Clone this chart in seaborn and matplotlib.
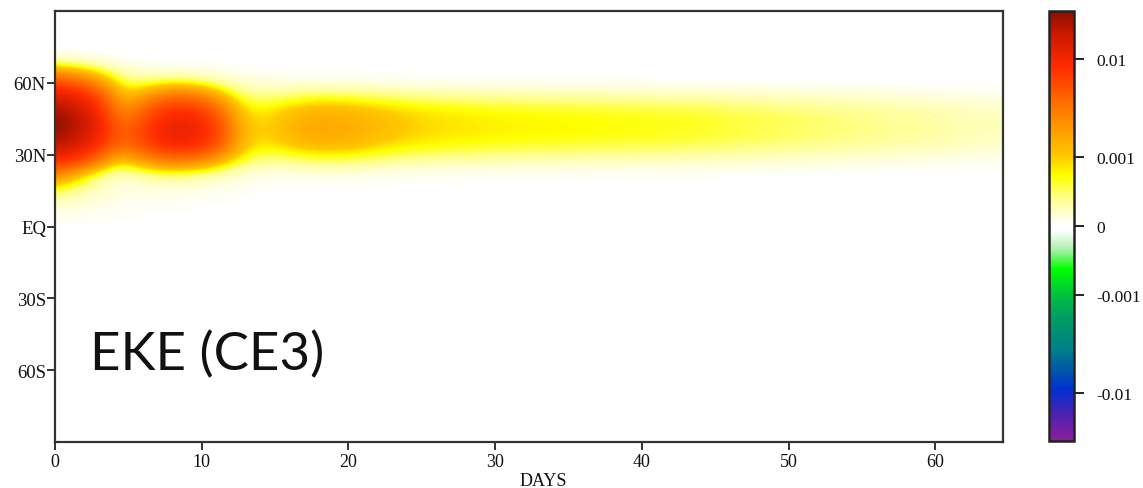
import numpy as np
import pandas as pd
import matplotlib
matplotlib.use("Agg")
import matplotlib.pyplot as plt
import seaborn as sns
from matplotlib.colors import LinearSegmentedColormap, SymLogNorm
from matplotlib.cm import ScalarMappable

# ---------------- data (EKE, units of 1e-3) ----------------
days = list(range(0, 65, 2))          # 0, 2, ..., 64
lats = list(range(-90, 91, 6))        # -90 ... 90 every 6 degrees

eke_78N = [0.0] * 33
eke_72N = [0.05, 0.05, 0.02, 0.01, 0.01, 0.01, 0.01, 0.01, 0.01, 0.01, 0.01, 0.01, 0.01, 0.01, 0, 0,
           0, 0, 0, 0, 0, 0, 0, 0, 0, 0, 0, 0, 0, 0, 0, 0, 0]
eke_66N = [0.7, 0.5, 0.2, 0.1, 0.1, 0.08, 0.05, 0.03, 0.03, 0.03, 0.03, 0.03, 0.02, 0.02, 0.02, 0.02,
           0.02, 0.02, 0.02, 0.02, 0.01, 0.01, 0.01, 0.01, 0.01, 0.01, 0.01, 0.01, 0.01, 0.01, 0.01, 0.01, 0.01]
eke_60N = [5, 3, 0.6, 0.4, 0.5, 0.4, 0.2, 0.15, 0.12, 0.1, 0.1, 0.08, 0.07, 0.06, 0.06, 0.06,
           0.05, 0.05, 0.05, 0.05, 0.05, 0.04, 0.04, 0.04, 0.04, 0.03, 0.03, 0.03, 0.03, 0.02, 0.02, 0.02, 0.02]
eke_54N = [14, 9, 1.0, 1.5, 3.5, 2.5, 0.6, 0.4, 0.5, 0.6, 0.55, 0.5, 0.45, 0.4, 0.38, 0.36,
           0.35, 0.34, 0.33, 0.32, 0.31, 0.3, 0.29, 0.27, 0.25, 0.23, 0.21, 0.2, 0.18, 0.16, 0.14, 0.13, 0.11]
eke_48N = [27, 15, 1.5, 3.5, 9, 7, 1.1, 0.75, 1.1, 1.4, 1.3, 1.1, 0.92, 0.83, 0.78, 0.74,
           0.72, 0.7, 0.68, 0.66, 0.64, 0.62, 0.6, 0.55, 0.52, 0.48, 0.44, 0.4, 0.37, 0.33, 0.3, 0.26, 0.23]
eke_42N = [32, 17, 3, 5, 12.5, 10, 1.5, 0.8, 1.3, 1.7, 1.5, 1.2, 1.0, 0.9, 0.85, 0.8,
           0.78, 0.76, 0.74, 0.72, 0.7, 0.68, 0.65, 0.6, 0.56, 0.52, 0.48, 0.44, 0.4, 0.36, 0.32, 0.28, 0.25]
eke_36N = [24, 14, 3.5, 5.5, 12, 10, 1.5, 0.8, 1.2, 1.5, 1.4, 1.1, 0.92, 0.83, 0.78, 0.74,
           0.72, 0.7, 0.68, 0.66, 0.64, 0.62, 0.6, 0.55, 0.52, 0.48, 0.44, 0.4, 0.37, 0.33, 0.3, 0.26, 0.23]
eke_30N = [12, 7, 0.9, 2.5, 4.5, 3.5, 1.0, 0.5, 0.6, 0.75, 0.7, 0.6, 0.5, 0.46, 0.43, 0.4,
           0.39, 0.38, 0.37, 0.36, 0.35, 0.34, 0.32, 0.3, 0.28, 0.26, 0.24, 0.22, 0.2, 0.18, 0.16, 0.14, 0.12]
eke_24N = [3.5, 1.0, 0.2, 0.5, 0.7, 0.5, 0.3, 0.15, 0.15, 0.2, 0.18, 0.15, 0.12, 0.11, 0.1, 0.1,
           0.1, 0.09, 0.09, 0.09, 0.08, 0.08, 0.08, 0.07, 0.07, 0.06, 0.06, 0.05, 0.05, 0.04, 0.04, 0.03, 0.03]
eke_18N = [0.9, 0.4, 0.15, 0.15, 0.2, 0.15, 0.1, 0.05, 0.04, 0.04, 0.04, 0.03, 0.03, 0.03, 0.03, 0.02,
           0.02, 0.02, 0.02, 0.02, 0.02, 0.02, 0.02, 0.01, 0.01, 0.01, 0.01, 0.01, 0.01, 0.01, 0.01, 0.01, 0.01]
eke_12N = [0.3, 0.2, 0.1, 0.08, 0.08, 0.06, 0.05, 0.03, 0.02, 0.02, 0.02, 0.02, 0.02, 0.01, 0.01, 0.01,
           0.01, 0.01, 0.01, 0.01, 0.01, 0.01, 0.01, 0.01, 0.01, 0.01, 0.01, 0.01, 0.01, 0.01, 0.01, 0.01, 0.01]
eke_06N = [0.1, 0.1, 0.06, 0.05, 0.04, 0.03, 0.02, 0.02, 0.01, 0.01, 0.01, 0.01, 0.01, 0.01, 0.01, 0.01,
           0.01, 0.01, 0.01, 0.01, 0.01, 0.01, 0.01, 0.01, 0.01, 0.01, 0.01, 0.01, 0.01, 0.01, 0.01, 0.01, 0.01]
eke_EQ = [0.03, 0.03, 0.02, 0.01, 0.01, 0.01, 0.01, 0, 0, 0, 0, 0, 0, 0, 0, 0,
          0, 0, 0, 0, 0, 0, 0, 0, 0, 0, 0, 0, 0, 0, 0, 0, 0]
eke_calm = [0.0] * 33   # polar north (84N, 90N) and whole southern hemisphere: blank

xticks = [0, 10, 20, 30, 40, 50, 60]
ytick_vals = [60, 30, 0, -30, -60]
ytick_labels = ["60N", "30N", "EQ", "30S", "60S"]
cbar_ticks = [-0.01, -0.001, 0, 0.001, 0.01]
cbar_labels = ["-0.01", "-0.001", "0", "0.001", "0.01"]

north = {0: eke_EQ, 6: eke_06N, 12: eke_12N, 18: eke_18N, 24: eke_24N, 30: eke_30N,
         36: eke_36N, 42: eke_42N, 48: eke_48N, 54: eke_54N, 60: eke_60N, 66: eke_66N,
         72: eke_72N, 78: eke_78N}
rows = [north.get(lat, eke_calm) for lat in lats]
df = pd.DataFrame(rows, index=lats, columns=days) * 1e-3

# ---------------- style ----------------
sns.set_theme(style="ticks")
plt.rcParams["font.family"] = ["Liberation Serif", "DejaVu Serif"]

cmap_pos = [0.0, 0.059, 0.121, 0.175, 0.214, 0.291, 0.338, 0.40, 0.447, 0.49, 0.505,
            0.563, 0.617, 0.663, 0.718, 0.772, 0.872, 0.95, 1.0]
cmap_col = ["#8a1f98", "#5020b0", "#0030d0", "#0060a0", "#007f8a", "#00a060", "#00c040",
            "#00ff00", "#b0f0b0", "#ffffff", "#ffffff", "#ffff90", "#ffff00", "#ffc800", "#ffa000",
            "#ff7800", "#ff2b00", "#c81800", "#8b1000"]
cmap = LinearSegmentedColormap.from_list("eke", list(zip(cmap_pos, cmap_col)), N=1024)
norm = SymLogNorm(linthresh=1e-3, linscale=0.64, vmin=-0.031, vmax=0.031, base=10)

fig = plt.figure(figsize=(11.43, 4.89), dpi=100)
ax = fig.add_axes([55 / 1143, 1 - 443 / 489, (1003 - 55) / 1143, (443 - 12) / 489])
cax = fig.add_axes([1049 / 1143, 1 - 442 / 489, 25 / 1143, (442 - 12) / 489])

ax.imshow(df.values, origin="lower", aspect="auto", cmap=cmap, norm=norm,
          extent=[days[0] - 1, days[-1] + 1, lats[0] - 3, lats[-1] + 3],
          interpolation="bicubic", interpolation_stage="data")

ax.set_xlim(0, 64.6)
ax.set_ylim(-90, 90)
ax.set_xticks(xticks)
ax.set_xticklabels([str(t) for t in xticks])
ax.set_yticks(ytick_vals)
ax.set_yticklabels(ytick_labels)
ax.tick_params(axis="both", direction="out", length=6, width=1.4, color="#333333",
               labelsize=13, pad=2, labelcolor="#111111")
ax.tick_params(axis="y", labelsize=13.5, pad=0.5)
for s in ax.spines.values():
    s.set_visible(True)
    s.set_color("#333333")
    s.set_linewidth(1.6)
ax.set_xlabel("")
ax.set_ylabel("")

ax.text((90 - 55) / 948, 0.169, "EKE (CE3)", transform=ax.transAxes,
        fontsize=38, family=["Lato", "DejaVu Sans"], color="#111111", ha="left", va="baseline")

fig.text(543 / 1143, 1 - 482 / 489, "DAYS", ha="center", va="center", fontsize=13,
         color="#111111")

cb = fig.colorbar(ScalarMappable(norm=norm, cmap=cmap), cax=cax, ticks=cbar_ticks)
cb.set_ticklabels(cbar_labels)
cb.outline.set_linewidth(1.8)
cb.outline.set_edgecolor("#222222")
cax.tick_params(direction="out", length=7, width=1.4, color="#222222", labelsize=12.5,
                pad=9, labelcolor="#111111")
cax.minorticks_off()

fig.savefig("out.png", dpi=100)
